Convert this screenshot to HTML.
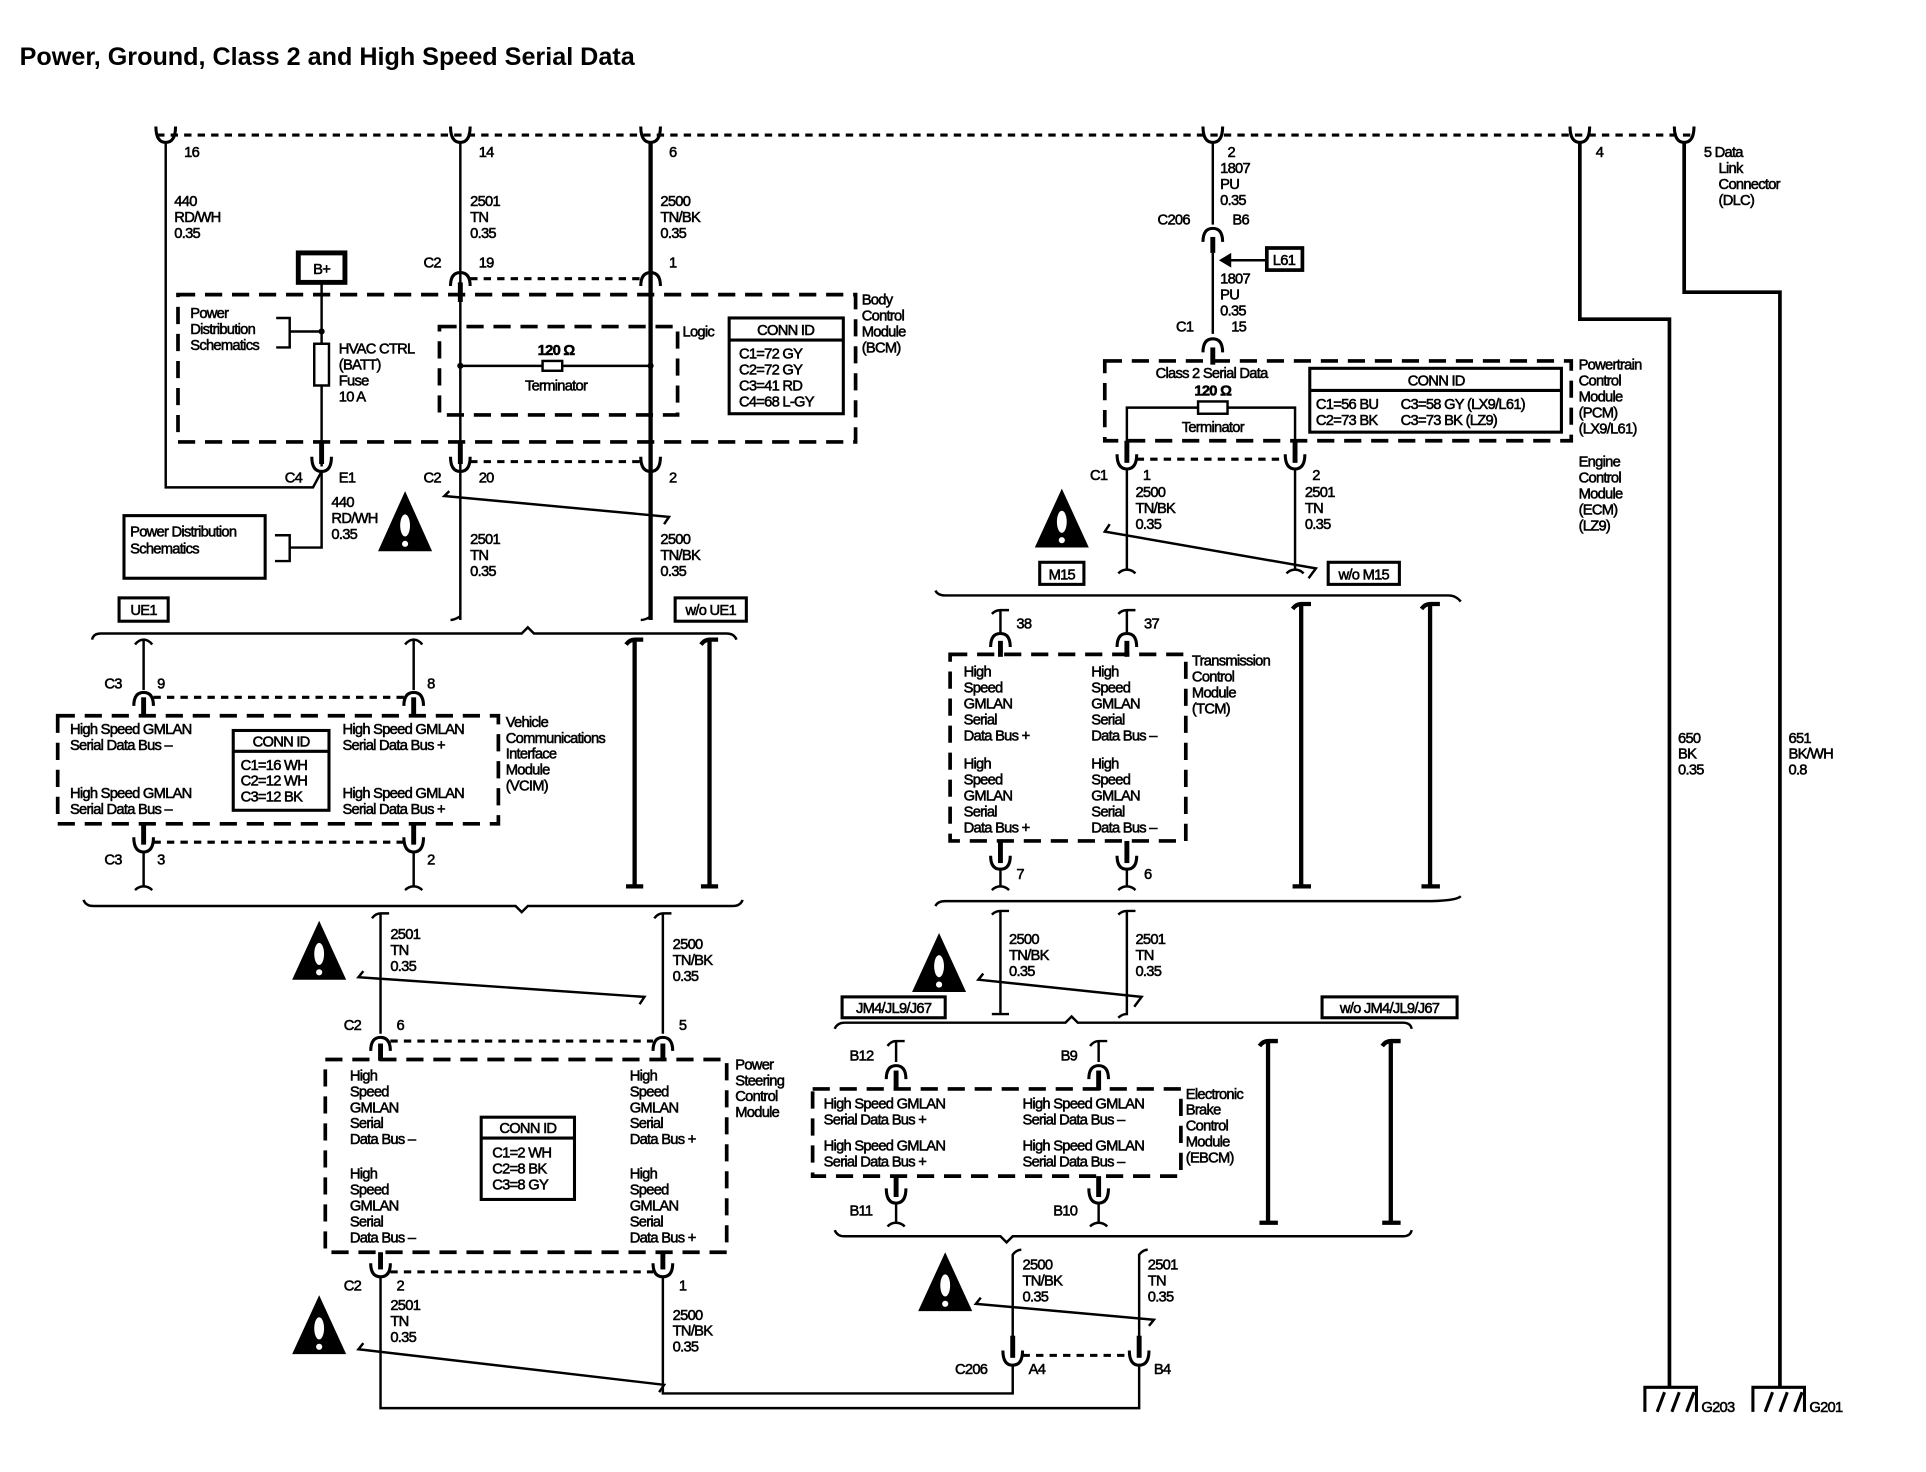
<!DOCTYPE html>
<html><head><meta charset="utf-8"><style>
html,body{margin:0;padding:0;background:#fff;}
svg{display:block}
text{font-family:"Liberation Sans",Arial,sans-serif;font-size:12px;fill:#000;letter-spacing:-0.6px;stroke:#000;stroke-width:0.45}
.w{stroke:#000;stroke-width:2;fill:none}
.t{stroke:#000;stroke-width:3.5;fill:none}
.d{stroke:#000;stroke-width:3;fill:none;stroke-dasharray:14 8}
.dt{stroke:#000;stroke-width:2.5;fill:none;stroke-dasharray:6 5}
.c{stroke:#000;stroke-width:2.5;fill:none}
.b{stroke:#000;stroke-width:2;fill:#fff}
.m{text-anchor:middle}
</style></head><body>
<svg width="1926" height="1472" viewBox="0 0 1569 1199" preserveAspectRatio="none" xmlns="http://www.w3.org/2000/svg">
<text x="16" y="53" style="font-size:20.5px;font-weight:bold;letter-spacing:0;stroke-width:0">Power, Ground, Class 2 and High Speed Serial Data</text>

<line class="dt" x1="128" y1="110" x2="1380" y2="110"/>
<g class="c">
<path d="M127,103 Q127,116 135,116 Q143,116 143,103"/>
<path d="M367,103 Q367,116 375,116 Q383,116 383,103"/>
<path d="M522,103 Q522,116 530,116 Q538,116 538,103"/>
<path d="M980,103 Q980,116 988,116 Q996,116 996,103"/>
<path d="M1279,103 Q1279,116 1287,116 Q1295,116 1295,103"/>
<path d="M1364,103 Q1364,116 1372,116 Q1380,116 1380,103"/>
</g>
<text x="150" y="128">16</text><text x="390" y="128">14</text><text x="545" y="128">6</text>
<text x="1000" y="128">2</text><text x="1300" y="128">4</text>
<text x="1388" y="128">5 Data</text><text x="1400" y="141">Link</text><text x="1400" y="154">Connector</text><text x="1400" y="167">(DLC)</text>

<polyline class="w" points="135,116 135,397 255,397 262,384"/>
<text x="142" y="168">440</text><text x="142" y="181">RD/WH</text><text x="142" y="194">0.35</text>
<line class="w" x1="375" y1="116" x2="375" y2="505"/>
<line class="t" x1="530" y1="116" x2="530" y2="505"/>
<text x="383" y="168">2501</text><text x="383" y="181">TN</text><text x="383" y="194">0.35</text>
<text x="538" y="168">2500</text><text x="538" y="181">TN/BK</text><text x="538" y="194">0.35</text>
<text x="345" y="218">C2</text><text x="390" y="218">19</text><text x="545" y="218">1</text>
<line class="dt" x1="383" y1="227" x2="522" y2="227"/>
<g class="c">
<path d="M367,233 Q367,222 375,222 Q383,222 383,233"/>
<path d="M522,233 Q522,222 530,222 Q538,222 538,233"/>
</g>
<line x1="375" y1="230" x2="375" y2="246" stroke="#000" stroke-width="4"/>
<rect x="243" y="206" width="38" height="24" fill="#fff" stroke="#000" stroke-width="4"/>
<text x="262" y="223" class="m">B+</text>
<rect class="d" x="145" y="240" width="552" height="120"/>
<text x="702" y="248">Body</text><text x="702" y="261">Control</text><text x="702" y="274">Module</text><text x="702" y="287">(BCM)</text>
<line class="w" x1="262" y1="230" x2="262" y2="380"/>
<rect class="b" x="256" y="280" width="12" height="34"/>
<circle cx="262" cy="270" r="2.5"/>
<text x="155" y="259">Power</text><text x="155" y="272">Distribution</text><text x="155" y="285">Schematics</text>
<polyline class="w" points="225,259 236,259 236,283 225,283"/><line class="w" x1="236" y1="270" x2="262" y2="270"/>
<text x="276" y="288">HVAC CTRL</text><text x="276" y="301">(BATT)</text><text x="276" y="314">Fuse</text><text x="276" y="327">10 A</text>
<rect class="d" x="358" y="266" width="194" height="72"/>
<text x="556" y="274">Logic</text>
<line class="w" x1="375" y1="298" x2="530" y2="298"/>
<rect class="b" x="442" y="294" width="16" height="8"/>
<circle cx="375" cy="298" r="2.5"/><circle cx="530" cy="298" r="2.5"/>
<text x="453" y="289" class="m" style="font-weight:bold">120 Ω</text>
<text x="453" y="318" class="m">Terminator</text>
<rect class="c" x="594" y="259" width="93" height="78"/><line class="c" x1="594" y1="277" x2="687" y2="277"/>
<text x="640" y="273" class="m">CONN ID</text>
<text x="602" y="292">C1=72 GY</text><text x="602" y="305">C2=72 GY</text><text x="602" y="318">C3=41 RD</text><text x="602" y="331">C4=68 L-GY</text>
<g class="c">
<path d="M254,372 Q254,384 262,384 Q270,384 270,372"/>
<path d="M367,372 Q367,384 375,384 Q383,384 383,372"/>
<path d="M522,372 Q522,384 530,384 Q538,384 538,372"/>
</g>
<line x1="262" y1="360" x2="262" y2="378" stroke="#000" stroke-width="4"/>
<line x1="375" y1="360" x2="375" y2="378" stroke="#000" stroke-width="4"/>
<line class="dt" x1="383" y1="376" x2="522" y2="376"/>
<text x="232" y="393">C4</text><text x="276" y="393">E1</text><text x="345" y="393">C2</text><text x="390" y="393">20</text><text x="545" y="393">2</text>
<text x="270" y="413">440</text><text x="270" y="426">RD/WH</text><text x="270" y="439">0.35</text>
<rect class="c" x="101" y="420" width="115" height="51"/>
<text x="106" y="437">Power Distribution</text><text x="106" y="451">Schematics</text>
<polyline class="w" points="224,436 236,436 236,457 224,457"/><polyline class="w" points="236,446 262,446 262,384"/>
<polyline class="w" points="366,400 362,404 545,421 541,427"/>
<text x="383" y="443">2501</text><text x="383" y="456">TN</text><text x="383" y="469">0.35</text>
<text x="538" y="443">2500</text><text x="538" y="456">TN/BK</text><text x="538" y="469">0.35</text>

<g><polygon points="330,400 308,449 352,449"/><ellipse cx="330" cy="428" rx="4" ry="9" fill="#fff"/><circle cx="330" cy="443" r="2.5" fill="#fff"/></g>
<g><polygon points="260,750 238,798 282,798"/><ellipse cx="260" cy="777" rx="4" ry="9" fill="#fff"/><circle cx="260" cy="792" r="2.5" fill="#fff"/></g>
<g><polygon points="260,1055 238,1103 282,1103"/><ellipse cx="260" cy="1082" rx="4" ry="9" fill="#fff"/><circle cx="260" cy="1097" r="2.5" fill="#fff"/></g>
<g><polygon points="765,760 743,808 787,808"/><ellipse cx="765" cy="787" rx="4" ry="9" fill="#fff"/><circle cx="765" cy="802" r="2.5" fill="#fff"/></g>
<g><polygon points="865,398 843,446 887,446"/><ellipse cx="865" cy="425" rx="4" ry="9" fill="#fff"/><circle cx="865" cy="440" r="2.5" fill="#fff"/></g>
<g><polygon points="770,1020 748,1068 792,1068"/><ellipse cx="770" cy="1047" rx="4" ry="9" fill="#fff"/><circle cx="770" cy="1062" r="2.5" fill="#fff"/></g>

<rect class="c" x="97" y="487" width="40" height="19"/><text x="117" y="501" class="m">UE1</text>
<rect class="c" x="550" y="487" width="58" height="19"/><text x="579" y="501" class="m">w/o UE1</text>
<path class="w" d="M75,521 Q76,516 82,516 L425,516 L430,511 L435,516 L592,516 Q598,516 600,521"/>
<path class="w" d="M367,505 Q370,505 375,502 M522,505 Q526,505 530,502"/>
<path class="w" d="M110,525 Q113,521 117,521 L117,562 M117,521 Q121,521 124,525"/>
<path class="w" d="M330,525 Q333,521 337,521 L337,562 M337,521 Q341,521 344,525"/>
<g class="c">
<path d="M109,575 Q109,564 117,564 Q125,564 125,575"/>
<path d="M329,575 Q329,564 337,564 Q345,564 345,575"/>
</g>
<line x1="117" y1="568" x2="117" y2="584" stroke="#000" stroke-width="4"/>
<line x1="337" y1="568" x2="337" y2="584" stroke="#000" stroke-width="4"/>
<line class="dt" x1="125" y1="568" x2="329" y2="568"/>
<text x="85" y="561">C3</text><text x="128" y="561">9</text><text x="348" y="561">8</text>
<rect class="d" x="47" y="583" width="359" height="88"/>
<text x="57" y="598">High Speed GMLAN</text><text x="57" y="611">Serial Data Bus –</text>
<text x="57" y="650">High Speed GMLAN</text><text x="57" y="663">Serial Data Bus –</text>
<text x="279" y="598">High Speed GMLAN</text><text x="279" y="611">Serial Data Bus +</text>
<text x="279" y="650">High Speed GMLAN</text><text x="279" y="663">Serial Data Bus +</text>
<rect class="b" x="190" y="595" width="78" height="65" style="stroke-width:2.5"/><line class="c" x1="190" y1="612" x2="268" y2="612"/>
<text x="229" y="608" class="m">CONN ID</text>
<text x="196" y="627">C1=16 WH</text><text x="196" y="640">C2=12 WH</text><text x="196" y="653">C3=12 BK</text>
<text x="412" y="592">Vehicle</text><text x="412" y="605">Communications</text><text x="412" y="618">Interface</text><text x="412" y="631">Module</text><text x="412" y="644">(VCIM)</text>
<g class="c">
<path d="M109,682 Q109,694 117,694 Q125,694 125,682"/>
<path d="M329,682 Q329,694 337,694 Q345,694 345,682"/>
</g>
<line x1="117" y1="671" x2="117" y2="688" stroke="#000" stroke-width="4"/>
<line x1="337" y1="671" x2="337" y2="688" stroke="#000" stroke-width="4"/>
<line class="dt" x1="125" y1="686" x2="329" y2="686"/>
<text x="85" y="704">C3</text><text x="128" y="704">3</text><text x="348" y="704">2</text>
<path class="w" d="M117,694 L117,722 Q113,722 110,725 M117,722 Q121,722 124,725"/>
<path class="w" d="M337,694 L337,722 Q333,722 330,725 M337,722 Q341,722 344,725"/>
<path class="t" d="M510,525 Q513,521 517,521 L524,521 M517,521 L517,722 M510,722 L524,722"/>
<path class="t" d="M571,525 Q574,521 578,521 L585,521 M578,521 L578,722 M571,722 L585,722"/>
<path class="w" d="M68,733 Q70,738 76,738 L420,738 L425,743 L430,738 L597,738 Q603,738 605,733"/>

<path class="w" d="M303,748 Q306,744 310,744 L317,744 M310,744 L310,842"/>
<path class="w" d="M533,748 Q536,744 540,744 L547,744 M540,744 L540,842"/>
<text x="318" y="765">2501</text><text x="318" y="778">TN</text><text x="318" y="791">0.35</text>
<text x="548" y="773">2500</text><text x="548" y="786">TN/BK</text><text x="548" y="799">0.35</text>
<polyline class="w" points="296,791 292,796 525,812 521,818"/>
<text x="280" y="839">C2</text><text x="323" y="839">6</text><text x="553" y="839">5</text>
<g class="c">
<path d="M302,856 Q302,845 310,845 Q318,845 318,856"/>
<path d="M532,856 Q532,845 540,845 Q548,845 548,856"/>
</g>
<line class="dt" x1="318" y1="848" x2="532" y2="848"/>
<line x1="310" y1="850" x2="310" y2="864" stroke="#000" stroke-width="4"/>
<line x1="540" y1="850" x2="540" y2="864" stroke="#000" stroke-width="4"/>
<rect class="d" x="265" y="863" width="327" height="157"/>
<text x="285" y="880">High</text><text x="285" y="893">Speed</text><text x="285" y="906">GMLAN</text><text x="285" y="919">Serial</text><text x="285" y="932">Data Bus –</text>
<text x="285" y="960">High</text><text x="285" y="973">Speed</text><text x="285" y="986">GMLAN</text><text x="285" y="999">Serial</text><text x="285" y="1012">Data Bus –</text>
<text x="513" y="880">High</text><text x="513" y="893">Speed</text><text x="513" y="906">GMLAN</text><text x="513" y="919">Serial</text><text x="513" y="932">Data Bus +</text>
<text x="513" y="960">High</text><text x="513" y="973">Speed</text><text x="513" y="986">GMLAN</text><text x="513" y="999">Serial</text><text x="513" y="1012">Data Bus +</text>
<rect class="c" x="392" y="910" width="76" height="67"/><line class="c" x1="392" y1="927" x2="468" y2="927"/>
<text x="430" y="923" class="m">CONN ID</text>
<text x="401" y="943">C1=2 WH</text><text x="401" y="956">C2=8 BK</text><text x="401" y="969">C3=8 GY</text>
<text x="599" y="871">Power</text><text x="599" y="884">Steering</text><text x="599" y="897">Control</text><text x="599" y="910">Module</text>
<line x1="310" y1="1020" x2="310" y2="1034" stroke="#000" stroke-width="4"/>
<line x1="540" y1="1020" x2="540" y2="1034" stroke="#000" stroke-width="4"/>
<g class="c">
<path d="M302,1029 Q302,1040 310,1040 Q318,1040 318,1029"/>
<path d="M532,1029 Q532,1040 540,1040 Q548,1040 548,1029"/>
</g>
<line class="dt" x1="318" y1="1036" x2="532" y2="1036"/>
<text x="280" y="1051">C2</text><text x="323" y="1051">2</text><text x="553" y="1051">1</text>
<text x="318" y="1067">2501</text><text x="318" y="1080">TN</text><text x="318" y="1093">0.35</text>
<text x="548" y="1075">2500</text><text x="548" y="1088">TN/BK</text><text x="548" y="1101">0.35</text>
<polyline class="w" points="310,1040 310,1147 928,1147 928,1113"/>
<polyline class="w" points="540,1040 540,1135 825,1135 825,1113"/>
<polyline class="w" points="296,1094 292,1099 541,1128 537,1134"/>

<g class="c">
<path d="M817,1100 Q817,1112 825,1112 Q833,1112 833,1100"/>
<path d="M920,1100 Q920,1112 928,1112 Q936,1112 936,1100"/>
</g>
<line class="dt" x1="833" y1="1104" x2="920" y2="1104"/>
<line x1="825" y1="1088" x2="825" y2="1106" stroke="#000" stroke-width="4"/>
<line x1="928" y1="1088" x2="928" y2="1106" stroke="#000" stroke-width="4"/>
<text x="778" y="1119">C206</text><text x="838" y="1119">A4</text><text x="940" y="1119">B4</text>
<path class="w" d="M825,1100 L825,1022 Q828,1018 832,1018 M928,1100 L928,1022 Q931,1018 935,1018"/>
<text x="833" y="1034">2500</text><text x="833" y="1047">TN/BK</text><text x="833" y="1060">0.35</text>
<text x="935" y="1034">2501</text><text x="935" y="1047">TN</text><text x="935" y="1060">0.35</text>
<polyline class="w" points="799,1057 795,1062 940,1075 936,1080"/>

<rect class="c" x="686" y="812" width="84" height="17"/><text x="728" y="825" class="m">JM4/JL9/J67</text>
<rect class="c" x="1077" y="812" width="110" height="17"/><text x="1132" y="825" class="m">w/o JM4/JL9/J67</text>
<path class="w" d="M680,838 Q682,833 688,833 L868,833 L873,828 L878,833 L1143,833 Q1149,833 1150,838"/>
<path class="w" d="M723,852 Q726,848 730,848 L737,848 M730,848 L730,865"/>
<path class="w" d="M888,852 Q891,848 895,848 L902,848 M895,848 L895,865"/>
<g class="c">
<path d="M722,879 Q722,868 730,868 Q738,868 738,879"/>
<path d="M887,879 Q887,868 895,868 Q903,868 903,879"/>
</g>
<line x1="730" y1="872" x2="730" y2="888" stroke="#000" stroke-width="4"/>
<line x1="895" y1="872" x2="895" y2="888" stroke="#000" stroke-width="4"/>
<text x="692" y="864">B12</text><text x="864" y="864">B9</text>
<rect class="d" x="662" y="887" width="300" height="71"/>
<text x="671" y="903">High Speed GMLAN</text><text x="671" y="916">Serial Data Bus +</text>
<text x="671" y="937">High Speed GMLAN</text><text x="671" y="950">Serial Data Bus +</text>
<text x="833" y="903">High Speed GMLAN</text><text x="833" y="916">Serial Data Bus –</text>
<text x="833" y="937">High Speed GMLAN</text><text x="833" y="950">Serial Data Bus –</text>
<text x="966" y="895">Electronic</text><text x="966" y="908">Brake</text><text x="966" y="921">Control</text><text x="966" y="934">Module</text><text x="966" y="947">(EBCM)</text>
<line x1="730" y1="958" x2="730" y2="975" stroke="#000" stroke-width="4"/>
<line x1="895" y1="958" x2="895" y2="975" stroke="#000" stroke-width="4"/>
<g class="c">
<path d="M722,968 Q722,980 730,980 Q738,980 738,968"/>
<path d="M887,968 Q887,980 895,980 Q903,980 903,968"/>
</g>
<path class="w" d="M730,980 L730,996 Q726,996 723,999 M730,996 Q734,996 737,999"/>
<path class="w" d="M895,980 L895,996 Q891,996 888,999 M895,996 Q899,996 902,999"/>
<text x="692" y="990">B11</text><text x="858" y="990">B10</text>
<path class="t" d="M1026,852 Q1029,848 1033,848 L1041,848 M1033,848 L1033,996 M1026,996 L1041,996"/>
<path class="t" d="M1126,852 Q1129,848 1133,848 L1141,848 M1133,848 L1133,996 M1126,996 L1141,996"/>
<path class="w" d="M680,1002 Q682,1007 688,1007 L815,1007 L820,1012 L825,1007 L1143,1007 Q1149,1007 1150,1002"/>

<path class="w" d="M808,745 Q811,742 815,742 L822,742 M815,742 L815,826 M808,826 L822,826"/>
<path class="w" d="M911,745 Q914,742 918,742 L925,742 M918,742 L918,826 Q914,826 911,829"/>
<text x="822" y="769">2500</text><text x="822" y="782">TN/BK</text><text x="822" y="795">0.35</text>
<text x="925" y="769">2501</text><text x="925" y="782">TN</text><text x="925" y="795">0.35</text>
<polyline class="w" points="801,793 797,798 930,812 924,820"/>
<path class="w" d="M762,738 Q764,734 770,734 L1160,734 Q1186,734 1190,730"/>
<path class="w" d="M762,481 Q764,485 770,485 L1180,485 Q1186,485 1190,490"/>
<path class="w" d="M808,500 Q811,497 815,497 L822,497 M815,497 L815,515"/>
<path class="w" d="M911,500 Q914,497 918,497 L925,497 M918,497 L918,515"/>
<g class="c">
<path d="M807,527 Q807,516 815,516 Q823,516 823,527"/>
<path d="M910,527 Q910,516 918,516 Q926,516 926,527"/>
</g>
<line x1="815" y1="522" x2="815" y2="535" stroke="#000" stroke-width="4"/>
<line x1="918" y1="522" x2="918" y2="535" stroke="#000" stroke-width="4"/>
<text x="828" y="512">38</text><text x="932" y="512">37</text>
<rect class="d" x="774" y="533" width="192" height="152"/>
<text x="785" y="551">High</text><text x="785" y="564">Speed</text><text x="785" y="577">GMLAN</text><text x="785" y="590">Serial</text><text x="785" y="603">Data Bus +</text>
<text x="785" y="626">High</text><text x="785" y="639">Speed</text><text x="785" y="652">GMLAN</text><text x="785" y="665">Serial</text><text x="785" y="678">Data Bus +</text>
<text x="889" y="551">High</text><text x="889" y="564">Speed</text><text x="889" y="577">GMLAN</text><text x="889" y="590">Serial</text><text x="889" y="603">Data Bus –</text>
<text x="889" y="626">High</text><text x="889" y="639">Speed</text><text x="889" y="652">GMLAN</text><text x="889" y="665">Serial</text><text x="889" y="678">Data Bus –</text>
<text x="971" y="542">Transmission</text><text x="971" y="555">Control</text><text x="971" y="568">Module</text><text x="971" y="581">(TCM)</text>
<line x1="815" y1="685" x2="815" y2="703" stroke="#000" stroke-width="4"/>
<line x1="918" y1="685" x2="918" y2="703" stroke="#000" stroke-width="4"/>
<g class="c">
<path d="M807,697 Q807,708 815,708 Q823,708 823,697"/>
<path d="M910,697 Q910,708 918,708 Q926,708 926,697"/>
</g>
<path class="w" d="M815,708 L815,722 Q811,722 808,725 M815,722 Q819,722 822,725"/>
<path class="w" d="M918,708 L918,722 Q914,722 911,725 M918,722 Q922,722 925,725"/>
<text x="828" y="716">7</text><text x="932" y="716">6</text>
<path class="t" d="M1053,496 Q1056,492 1060,492 L1068,492 M1060,492 L1060,722 M1053,722 L1068,722"/>
<path class="t" d="M1158,496 Q1161,492 1165,492 L1173,492 M1165,492 L1165,722 M1158,722 L1173,722"/>
<rect class="c" x="847" y="458" width="36" height="18"/><text x="865" y="472" class="m">M15</text>
<rect class="c" x="1082" y="458" width="58" height="18"/><text x="1111" y="472" class="m">w/o M15</text>

<line class="w" x1="988" y1="116" x2="988" y2="183"/>
<text x="994" y="141">1807</text><text x="994" y="154">PU</text><text x="994" y="167">0.35</text>
<text x="943" y="183">C206</text><text x="1004" y="183">B6</text>
<path class="c" d="M980,197 Q980,186 988,186 Q996,186 996,197"/>
<line x1="988" y1="193" x2="988" y2="206" stroke="#000" stroke-width="4"/>
<line class="w" x1="988" y1="206" x2="988" y2="272"/>
<line class="w" x1="998" y1="212" x2="1032" y2="212"/>
<polygon points="993,212 1003,206 1003,218"/>
<rect x="1032" y="202" width="29" height="18" fill="#fff" stroke="#000" stroke-width="3"/><text x="1046" y="216" class="m">L61</text>
<text x="994" y="231">1807</text><text x="994" y="244">PU</text><text x="994" y="257">0.35</text>
<text x="958" y="270">C1</text><text x="1003" y="270">15</text>
<path class="c" d="M980,287 Q980,276 988,276 Q996,276 996,287"/>
<line x1="988" y1="283" x2="988" y2="297" stroke="#000" stroke-width="4"/>
<rect class="d" x="900" y="294" width="380" height="65"/>
<text x="987" y="308" class="m">Class 2 Serial Data</text>
<text x="988" y="322" class="m" style="font-weight:bold">120 Ω</text>
<rect class="b" x="976" y="327" width="24" height="10"/>
<polyline class="w" points="918,375 918,332 976,332"/>
<path class="w" d="M1000,332 L1055,332 L1055,375"/>
<text x="988" y="352" class="m">Terminator</text>
<rect class="c" x="1067" y="300" width="205" height="52"/><line class="c" x1="1067" y1="318" x2="1272" y2="318"/>
<text x="1170" y="314" class="m">CONN ID</text>
<text x="1072" y="333">C1=56 BU</text><text x="1141" y="333">C3=58 GY (LX9/L61)</text>
<text x="1072" y="346">C2=73 BK</text><text x="1141" y="346">C3=73 BK (LZ9)</text>
<text x="1286" y="301">Powertrain</text><text x="1286" y="314">Control</text><text x="1286" y="327">Module</text><text x="1286" y="340">(PCM)</text><text x="1286" y="353">(LX9/L61)</text>
<text x="1286" y="380">Engine</text><text x="1286" y="393">Control</text><text x="1286" y="406">Module</text><text x="1286" y="419">(ECM)</text><text x="1286" y="432">(LZ9)</text>
<line x1="918" y1="359" x2="918" y2="377" stroke="#000" stroke-width="4"/>
<line x1="1055" y1="359" x2="1055" y2="377" stroke="#000" stroke-width="4"/>
<g class="c">
<path d="M910,370 Q910,382 918,382 Q926,382 926,370"/>
<path d="M1047,370 Q1047,382 1055,382 Q1063,382 1063,370"/>
</g>
<line class="dt" x1="926" y1="374" x2="1047" y2="374"/>
<text x="888" y="391">C1</text><text x="931" y="391">1</text><text x="1069" y="391">2</text>
<text x="925" y="405">2500</text><text x="925" y="418">TN/BK</text><text x="925" y="431">0.35</text>
<text x="1063" y="405">2501</text><text x="1063" y="418">TN</text><text x="1063" y="431">0.35</text>
<path class="w" d="M918,382 L918,464 Q914,464 911,467 M918,464 Q922,464 925,467"/>
<path class="w" d="M1055,382 L1055,464 Q1051,464 1048,467 M1055,464 Q1059,464 1062,467"/>
<polyline class="w" points="904,427 900,433 1072,463 1066,471"/>

<polyline class="c" points="1287,116 1287,260 1360,260 1360,1130" style="stroke-width:3"/>
<polyline class="c" points="1372,116 1372,238 1450,238 1450,1130" style="stroke-width:3"/>
<text x="1367" y="605">650</text><text x="1367" y="618">BK</text><text x="1367" y="631">0.35</text>
<text x="1457" y="605">651</text><text x="1457" y="618">BK/WH</text><text x="1457" y="631">0.8</text>
<g class="c" style="stroke-width:2.5">
<path d="M1340,1150 L1340,1130 L1382,1130 L1382,1150 M1350,1150 L1356,1134 M1362,1150 L1368,1134 M1374,1150 L1380,1134"/>
<path d="M1428,1150 L1428,1130 L1470,1130 L1470,1150 M1438,1150 L1444,1134 M1450,1150 L1456,1134 M1462,1150 L1468,1134"/>
</g>
<text x="1386" y="1150">G203</text><text x="1474" y="1150">G201</text>
</svg>
</body></html>
